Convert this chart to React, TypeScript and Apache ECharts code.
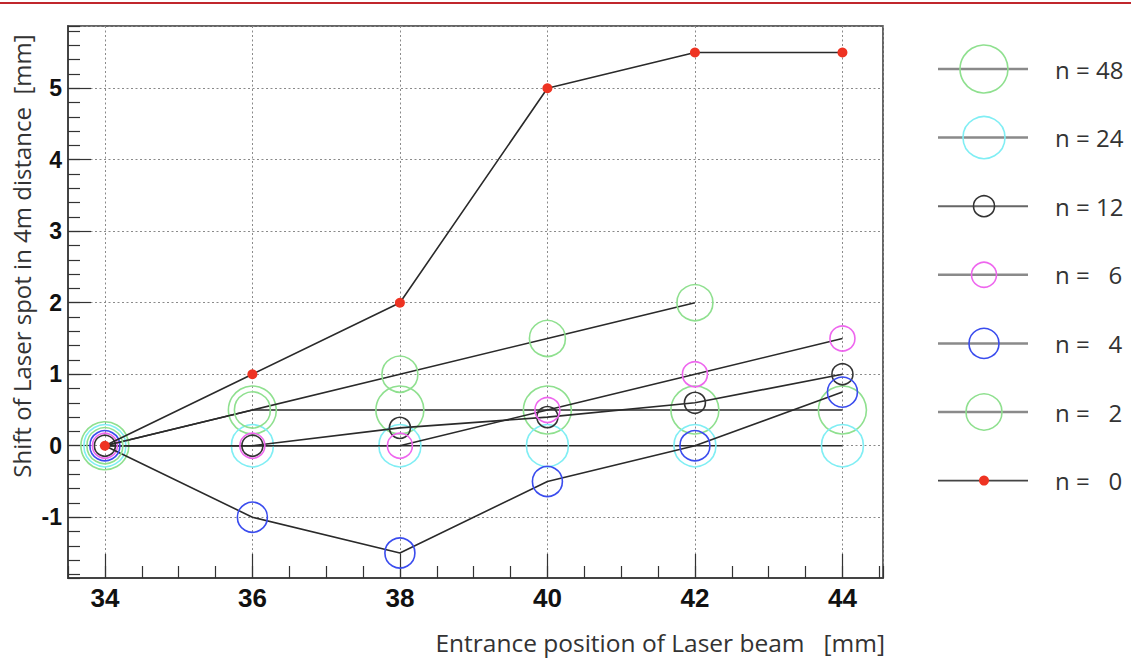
import React, { useEffect, useRef } from 'react';
import * as echarts from 'echarts';

// ---- data ----
const xPositions = [34, 36, 38, 40, 42, 44];
const seriesNames = ['n = 48', 'n = 24', 'n = 12', 'n =   6', 'n =   4', 'n =   2', 'n =   0'];
const n48 = [0, 0.5, 0.5, 0.5, 0.5, 0.5];
const n24 = [0, 0, 0, 0, 0, 0];
const n12 = [0, 0, 0.25, 0.4, 0.6, 1.0];
const n6 = [0, 0, 0, 0.5, 1.0, 1.5];
const n4 = [0, -1, -1.5, -0.5, 0, 0.75];
const n2 = [0, 0.5, 1.0, 1.5, 2.0, null];
const n0 = [0, 1, 2, 5, 5.5, 5.5];
const seriesValues: (number | null)[][] = [n48, n24, n12, n6, n4, n2, n0];

const xAxisTitle = 'Entrance position of Laser beam   [mm]';
const yAxisTitle = 'Shift of Laser spot in 4m distance  [mm]';

// ---- styles ----
const markerColors = ['#8fe08f', '#80eef4', '#333333', '#ee66ee', '#3a4cee', '#8fe08f', '#ee3322'];
const markerSizes = [48, 42, 21, 25, 30, 36, 10];
const markerFilled = [false, false, false, false, false, false, true];
const legendLineColors = ['#8a8a8a', '#8a8a8a', '#666666', '#8a8a8a', '#8a8a8a', '#8a8a8a', '#444444'];
const legendLineWidths = [2.5, 2.5, 2, 2.5, 2.5, 2.5, 1.6];

const X_MIN = 33.5;
const X_MAX = 44.55;
const Y_MIN = -1.85;
const Y_MAX = 5.87;

const GRID = { left: 68, top: 26, right: 248, bottom: 89 };
const TEXT_FONT = '"Open Sans", sans-serif';

export default function App() {
  const ref = useRef<HTMLDivElement>(null);

  useEffect(() => {
    document.body.style.margin = '0';
    if (!ref.current) return;
    const chart = echarts.init(ref.current, null, { renderer: 'svg' });

    const series: any[] = seriesValues.map((vals, i) => ({
      type: 'line',
      name: seriesNames[i],
      data: xPositions.map((x, j) => [x, vals[j]]).filter((p) => p[1] !== null),
      symbol: 'circle',
      symbolSize: markerSizes[i],
      showSymbol: true,
      lineStyle: { color: '#2a2a2a', width: 1.6 },
      itemStyle: markerFilled[i]
        ? { color: markerColors[i], borderWidth: 0 }
        : { color: 'rgba(0,0,0,0)', borderColor: markerColors[i], borderWidth: 1.6 },
      z: 2 + i,
      silent: true,
    }));

    const legendTop = 69;
    const legendStep = 68.6;
    const legendGraphics: any[] = [];
    seriesNames.forEach((name, i) => {
      const y = legendTop + i * legendStep;
      legendGraphics.push({
        type: 'line',
        shape: { x1: 938, y1: y, x2: 1028, y2: y },
        style: { stroke: legendLineColors[i], lineWidth: legendLineWidths[i] },
      });
      legendGraphics.push({
        type: 'circle',
        shape: { cx: 984, cy: y, r: markerSizes[i] / 2 },
        style: markerFilled[i]
          ? { fill: markerColors[i], stroke: 'none' }
          : { fill: 'none', stroke: markerColors[i], lineWidth: 1.6 },
      });
      legendGraphics.push({
        type: 'text',
        x: 1055,
        y: y,
        style: {
          text: name,
          fill: '#333',
          font: '24px ' + TEXT_FONT,
          textAlign: 'left',
          textVerticalAlign: 'middle',
        },
      });
    });

    const splitLineStyle = { show: true, lineStyle: { color: '#8a8a8a', type: [2, 2.5], width: 1 } };

    chart.setOption({
      animation: false,
      backgroundColor: '#ffffff',
      grid: {
        ...GRID,
        show: true,
        borderColor: '#333',
        borderWidth: 1.5,
        backgroundColor: 'rgba(0,0,0,0)',
      },
      xAxis: [
        {
          type: 'value',
          min: X_MIN,
          max: X_MAX,
          splitNumber: 5,
          position: 'bottom',
          axisLine: { show: true, onZero: false, lineStyle: { color: '#444', width: 2 } },
          axisTick: { show: true, inside: true, length: 24, lineStyle: { color: '#333', width: 1.2 } },
          axisLabel: {
            show: true,
            margin: 7,
            fontSize: 26,
            fontWeight: 'bold',
            fontFamily: '"Liberation Sans", Arial, sans-serif',
            color: '#111',
            showMinLabel: false,
            showMaxLabel: false,
          },
          splitLine: splitLineStyle,
        },
        {
          type: 'value',
          min: X_MIN,
          max: X_MAX,
          splitNumber: 22,
          position: 'bottom',
          axisLine: { show: false, onZero: false },
          axisTick: { show: true, inside: true, length: 12, lineStyle: { color: '#333', width: 1.2 } },
          axisLabel: { show: false },
          splitLine: { show: false },
        },
      ],
      yAxis: [
        {
          type: 'value',
          min: Y_MIN,
          max: Y_MAX,
          splitNumber: 8,
          position: 'left',
          axisLine: { show: true, onZero: false, lineStyle: { color: '#444', width: 2 } },
          axisTick: { show: true, inside: true, length: 23, lineStyle: { color: '#333', width: 1.2 } },
          axisLabel: {
            show: true,
            margin: 6,
            fontSize: 23,
            fontWeight: 'bold',
            fontFamily: '"Liberation Sans", Arial, sans-serif',
            color: '#111',
            showMinLabel: false,
            showMaxLabel: false,
          },
          splitLine: splitLineStyle,
        },
        {
          type: 'value',
          min: Y_MIN,
          max: Y_MAX,
          splitNumber: 40,
          position: 'left',
          axisLine: { show: false, onZero: false },
          axisTick: { show: true, inside: true, length: 12, lineStyle: { color: '#333', width: 1.2 } },
          axisLabel: { show: false },
          splitLine: { show: false },
        },
      ],
      series,
      graphic: [
        {
          type: 'rect',
          shape: { x: 0, y: 2, width: 1131, height: 2 },
          style: { fill: '#c0262c' },
        },
        {
          type: 'text',
          x: 885,
          y: 642,
          style: {
            text: xAxisTitle,
            fill: '#333',
            font: '24.5px ' + TEXT_FONT,
            textAlign: 'right',
            textVerticalAlign: 'middle',
          },
        },
        {
          type: 'text',
          x: 21,
          y: 256,
          rotation: Math.PI / 2,
          style: {
            text: yAxisTitle,
            fill: '#333',
            font: '24px ' + TEXT_FONT,
            textAlign: 'center',
            textVerticalAlign: 'middle',
          },
        },
        ...legendGraphics,
      ],
    });

    return () => chart.dispose();
  }, []);

  return <div ref={ref} style={{ width: 1131, height: 667 }} />;
}
